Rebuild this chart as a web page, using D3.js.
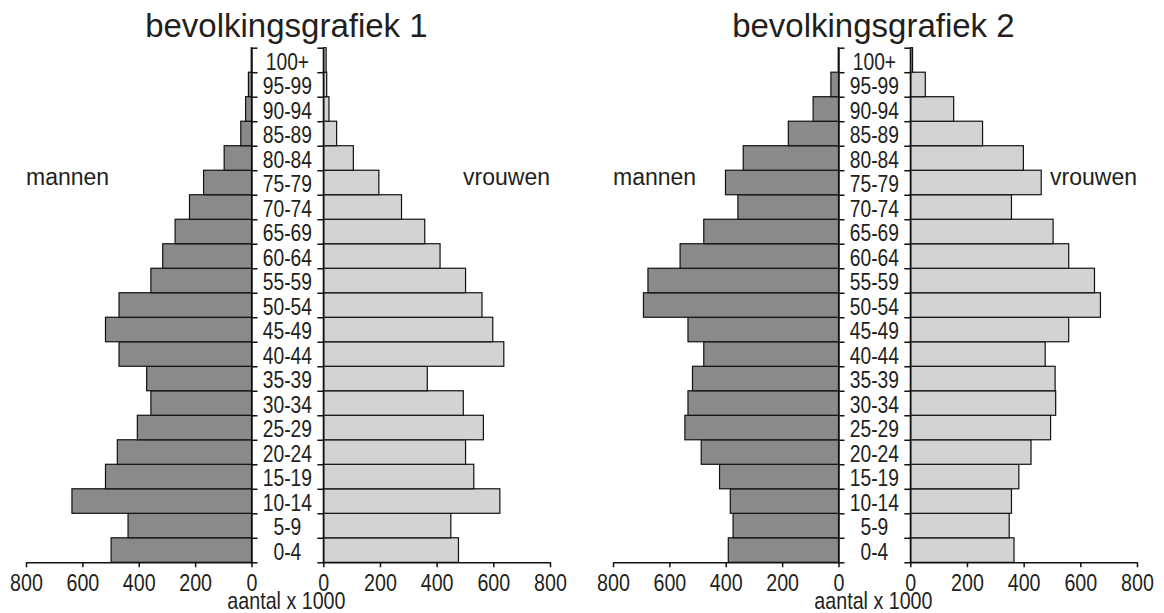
<!DOCTYPE html>
<html>
<head>
<meta charset="utf-8">
<script src="https://cdn.jsdelivr.net/npm/d3@7"></script>
<style>
  html, body { margin: 0; padding: 0; background: #fff; }
  svg { display: block; }
  text { font-family: "Liberation Sans", Arial, Helvetica, sans-serif; }
</style>
</head>
<body>
<svg id="chart" width="1164" height="613"></svg>
<script>
// ---- data ----
const ageGroups = ["0-4","5-9","10-14","15-19","20-24","25-29","30-34","35-39","40-44","45-49",
  "50-54","55-59","60-64","65-69","70-74","75-79","80-84","85-89","90-94","95-99","100+"];

const men1   = [498, 438, 637, 518, 476, 405, 357, 372, 470, 518, 470, 357, 315, 271, 220, 170, 97, 38, 21, 11, 1];
const women1 = [477, 450, 623, 531, 502, 565, 494, 367, 637, 598, 560, 502, 412, 358, 276, 196, 106, 47, 20, 12, 10];

const men2   = [391, 374, 384, 422, 487, 545, 534, 518, 478, 534, 692, 676, 562, 478, 357, 401, 338, 178, 90, 27, 1];
const women2 = [366, 349, 357, 383, 426, 495, 513, 511, 476, 559, 671, 650, 559, 504, 357, 462, 399, 255, 153, 53, 8];

const xTicks = [0, 200, 400, 600, 800];
const titles = ["bevolkingsgrafiek 1", "bevolkingsgrafiek 2"];
const sideLabels = ["mannen", "vrouwen"];
const axisTitle = "aantal x 1000";

// ---- layout ----
const svg = d3.select("#chart");
const textColor = "#231f20";
const menFill = "#8a8a8a";
const womenFill = "#d3d3d3";
const narrow = 0.82;

function drawPyramid(offsetX, title, men, women) {
  const g = svg.append("g").attr("transform", `translate(${offsetX},0)`);
  const leftZero = 251.5, leftEnd = 26, rightZero = 323.3, rightEnd = 550;
  const top = 47.7, bottom = 562.3;
  const center = (leftZero + rightZero) / 2;

  const xL = d3.scaleLinear().domain([0, 800]).range([leftZero, leftEnd]);
  const xR = d3.scaleLinear().domain([0, 800]).range([rightZero, rightEnd]);
  const y = d3.scaleBand().domain(ageGroups.slice().reverse()).range([top, bottom]).padding(0);
  const yB = d3.scaleLinear().domain([0, ageGroups.length]).range([bottom, top]);

  // bars
  g.append("g").selectAll("rect").data(ageGroups).join("rect")
    .attr("x", (d, i) => xL(men[i]))
    .attr("y", d => y(d))
    .attr("width", (d, i) => xL(0) - xL(men[i]))
    .attr("height", y.bandwidth())
    .attr("fill", menFill).attr("stroke", "#111").attr("stroke-width", 1.2);

  g.append("g").selectAll("rect").data(ageGroups).join("rect")
    .attr("x", xR(0))
    .attr("y", d => y(d))
    .attr("width", (d, i) => xR(women[i]) - xR(0))
    .attr("height", y.bandwidth())
    .attr("fill", womenFill).attr("stroke", "#111").attr("stroke-width", 1.2);

  // vertical axes with ticks at band boundaries
  const vL = g.append("g").attr("transform", `translate(${leftZero},0)`)
    .call(d3.axisRight(yB).tickValues(d3.range(ageGroups.length + 1)).tickFormat("").tickSize(6).tickSizeOuter(0));
  const vR = g.append("g").attr("transform", `translate(${rightZero},0)`)
    .call(d3.axisLeft(yB).tickValues(d3.range(ageGroups.length + 1)).tickFormat("").tickSize(6).tickSizeOuter(0));

  // horizontal axes
  const hL = g.append("g").attr("transform", `translate(0,${bottom})`)
    .call(d3.axisBottom(xL).tickValues(xTicks).tickFormat(d3.format("d")).tickSize(5).tickSizeOuter(0));
  const hR = g.append("g").attr("transform", `translate(0,${bottom})`)
    .call(d3.axisBottom(xR).tickValues(xTicks).tickFormat(d3.format("d")).tickSize(5).tickSizeOuter(0));

  [vL, vR, hL, hR].forEach(a => {
    a.selectAll("path.domain").attr("stroke", "#111").attr("stroke-width", 1.5);
    a.selectAll(".tick line").attr("stroke", "#111").attr("stroke-width", 1.5);
  });
  [hL, hR].forEach(a => {
    a.selectAll(".tick text")
      .attr("font-family", "Liberation Sans, Arial, sans-serif")
      .attr("font-size", 24)
      .attr("fill", textColor)
      .attr("dy", null).attr("y", null)
      .attr("transform", `translate(0,29) scale(${narrow},1)`);
  });

  // age labels
  g.append("g").selectAll("text").data(ageGroups).join("text")
    .attr("transform", d => `translate(${center},${y(d) + y.bandwidth() - 2.3}) scale(${narrow},1)`)
    .attr("text-anchor", "middle")
    .attr("font-size", 23.5)
    .attr("fill", textColor)
    .text(d => d);

  // title
  g.append("text")
    .attr("x", center - 1).attr("y", 37)
    .attr("text-anchor", "middle").attr("font-size", 33).attr("fill", textColor)
    .text(title);

  // side labels
  g.append("text")
    .attr("x", leftEnd).attr("y", 185)
    .attr("font-size", 23).attr("fill", textColor).text(sideLabels[0]);
  g.append("text")
    .attr("x", rightEnd).attr("y", 185).attr("text-anchor", "end")
    .attr("font-size", 23).attr("fill", textColor).text(sideLabels[1]);

  // axis title
  g.append("text")
    .attr("transform", `translate(${center - 1},609) scale(${narrow},1)`)
    .attr("text-anchor", "middle").attr("font-size", 24).attr("fill", textColor)
    .text(axisTitle);
}

drawPyramid(0, titles[0], men1, women1);
drawPyramid(587, titles[1], men2, women2);
</script>
</body>
</html>
